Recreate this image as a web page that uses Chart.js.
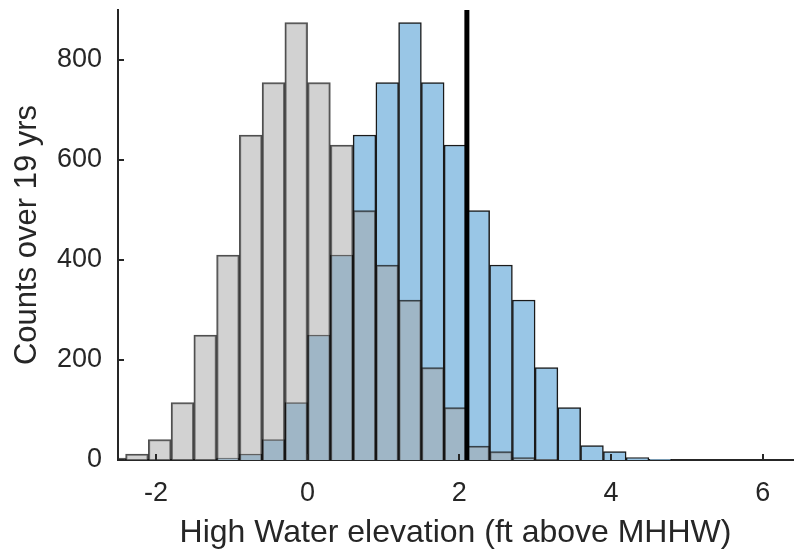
<!DOCTYPE html>
<html>
<head>
<meta charset="utf-8">
<script src="https://cdn.jsdelivr.net/npm/chart.js@4.4.1/dist/chart.umd.min.js"></script>
<style>
  html, body { margin: 0; padding: 0; background: #ffffff; }
  #wrap { width: 794px; height: 552px; position: relative; }
</style>
</head>
<body>
<div id="wrap"><canvas id="c" width="794" height="552"></canvas></div>
<script>
// Histogram bins are 0.3 ft wide; values below are bin centres and counts.
const earlierCenters = [-2.55, -2.25, -1.95, -1.65, -1.35, -1.05, -0.75, -0.45, -0.15, 0.15,
                        0.45, 0.75, 1.05, 1.35, 1.65, 1.95, 2.25, 2.55, 2.85, 3.15];
const earlierCounts  = [4, 12, 41, 115, 250, 410, 650, 755, 875, 755,
                        630, 499, 390, 320, 185, 105, 28, 17, 5, 1.5];

const recentCenters  = [-1.05, -0.75, -0.45, -0.15, 0.15, 0.45, 0.75, 1.05, 1.35, 1.65,
                        1.95, 2.25, 2.55, 2.85, 3.15, 3.45, 3.75, 4.05, 4.35, 4.65];
const recentCounts   = [4, 12, 41, 115, 250, 410, 650, 755, 875, 755,
                        630, 499, 390, 320, 185, 105, 29, 17, 5, 1.5];

// Reference elevation marker (ft above MHHW)
const markerX = 2.1;
const markerY = [0, 900];

const xTicks = [-2, 0, 2, 4, 6];
const yTicks = [0, 200, 400, 600, 800];

const INK = '#262626';
const FONT = "'Liberation Sans', Arial, Helvetica, sans-serif";

const toPoints = (xs, ys) => xs.map((x, i) => ({ x, y: ys[i] }));

// Short tick marks pointing into the plot area
const innerTicks = {
  id: 'innerTicks',
  afterDatasetDraw(chart, args) {
    if (args.index !== 1) return;
    const { ctx, chartArea, scales: { x, y } } = chart;
    ctx.save();
    ctx.strokeStyle = INK;
    ctx.lineWidth = 2;
    ctx.beginPath();
    x.ticks.forEach(t => {
      const px = Math.round(x.getPixelForValue(t.value));
      ctx.moveTo(px, chartArea.bottom);
      ctx.lineTo(px, chartArea.bottom - 6);
    });
    y.ticks.forEach(t => {
      const py = Math.round(y.getPixelForValue(t.value));
      ctx.moveTo(chartArea.left, py);
      ctx.lineTo(chartArea.left + 6, py);
    });
    ctx.stroke();
    ctx.restore();
  }
};

new Chart(document.getElementById('c'), {
  type: 'bar',
  data: {
    datasets: [
      {
        type: 'line',
        data: markerY.map(v => ({ x: markerX, y: v })),
        borderColor: '#000000',
        borderWidth: 5,
        pointRadius: 0,
        order: 0,
        clip: false
      },
      {
        label: 'earlier',
        data: toPoints(earlierCenters, earlierCounts),
        backgroundColor: 'rgba(165,165,165,0.5)',
        borderColor: 'rgba(20,20,20,0.75)',
        borderWidth: 1.5,
        grouped: false,
        barPercentage: 1,
        categoryPercentage: 1,
        order: 1
      },
      {
        label: 'recent',
        data: toPoints(recentCenters, recentCounts),
        backgroundColor: '#99c6e6',
        borderColor: '#1a1a1a',
        borderWidth: 1.5,
        grouped: false,
        barPercentage: 1,
        categoryPercentage: 1,
        order: 2
      }
    ]
  },
  options: {
    responsive: false,
    devicePixelRatio: 1,
    animation: false,
    layout: { padding: { top: 10, right: 1, left: 0, bottom: 0 } },
    plugins: { legend: { display: false }, tooltip: { enabled: false } },
    scales: {
      x: {
        type: 'linear',
        offset: false,
        min: -2.5,
        max: 6.4,
        afterBuildTicks: s => { s.ticks = xTicks.map(v => ({ value: v })); },
        afterFit: s => { s.height = 92; s.paddingLeft = 0; s.paddingRight = 0; },
        grid: { display: false, drawTicks: false, offset: false },
        border: { display: true, color: INK, width: 2 },
        ticks: { color: INK, padding: 17, font: { family: FONT, size: 27 }, maxRotation: 0 },
        title: {
          display: true,
          text: 'High Water elevation (ft above MHHW)',
          color: INK,
          font: { family: FONT, size: 32 },
          padding: { top: 0, bottom: 0 }
        }
      },
      y: {
        type: 'linear',
        min: 0,
        max: 900,
        afterBuildTicks: s => { s.ticks = yTicks.map(v => ({ value: v })); },
        afterFit: s => { s.width = 118; s.paddingTop = 0; s.paddingBottom = 0; },
        grid: { display: false, drawTicks: false },
        border: { display: true, color: INK, width: 2 },
        ticks: { color: INK, padding: 16, font: { family: FONT, size: 27 } },
        title: {
          display: true,
          text: 'Counts over 19 yrs',
          color: INK,
          font: { family: FONT, size: 31 },
          padding: { top: 9, bottom: 0 }
        }
      }
    }
  },
  plugins: [innerTicks]
});
</script>
</body>
</html>
